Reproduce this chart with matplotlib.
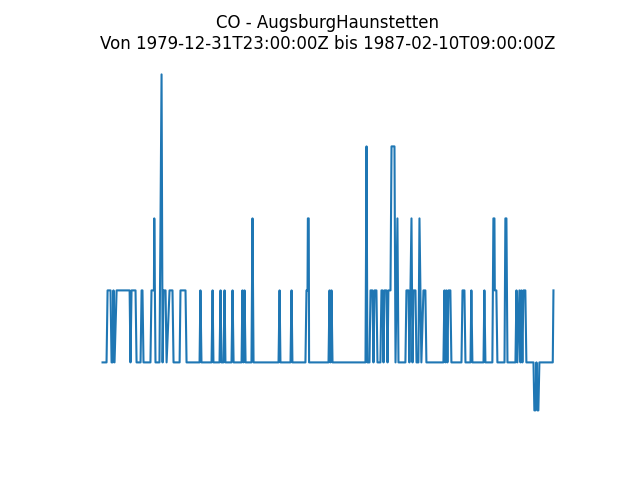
import numpy as np
import pandas as pd
import matplotlib
matplotlib.use("Agg")
import matplotlib.pyplot as plt

# Messstation und Zeitraum
station = "AugsburgHaunstetten"
component = "CO"
start = "1979-12-31T23:00:00Z"
end = "1987-02-10T09:00:00Z"

# Tage seit Beginn der Messreihe, je Zeile 10 Werte
days = [0, 23, 29, 46, 52, 58, 63, 69, 81, 156,
        161, 167, 190, 196, 219, 225, 230, 236, 276, 282,
        296, 298, 305, 328, 340, 346, 351, 363, 369, 386,
        403, 409, 444, 449, 478, 484, 559, 564, 570, 628,
        634, 639, 674, 680, 685, 697, 703, 708, 743, 749,
        755, 801, 806, 812, 818, 824, 858, 864, 870, 1014,
        1020, 1025, 1083, 1089, 1094, 1169, 1175, 1181, 1183, 1188,
        1190, 1302, 1308, 1313, 1319, 1325, 1515, 1521, 1526, 1538,
        1544, 1555, 1561, 1567, 1578, 1584, 1601, 1607, 1613, 1619,
        1624, 1636, 1642, 1647, 1659, 1665, 1682, 1688, 1699, 1705,
        1745, 1751, 1763, 1768, 1780, 1786, 1791, 1803, 1809, 1820,
        1826, 1837, 1849, 1860, 1866, 1964, 1970, 1976, 1981, 1987,
        1993, 2004, 2010, 2068, 2074, 2085, 2091, 2120, 2125, 2131,
        2195, 2200, 2206, 2246, 2252, 2258, 2260, 2269, 2275, 2316,
        2321, 2327, 2333, 2379, 2385, 2390, 2402, 2408, 2413, 2419,
        2425, 2436, 2442, 2483, 2488, 2494, 2500, 2506, 2511, 2517,
        2594, 2598]

# CO-Werte in mg/m3
co = [0.0, 0.0, 0.3, 0.3, 0.0, 0.0, 0.3, 0.0, 0.3, 0.3,
      0.0, 0.3, 0.3, 0.0, 0.0, 0.3, 0.3, 0.0, 0.0, 0.3,
      0.3, 0.6, 0.0, 0.0, 1.2, 0.0, 0.3, 0.3, 0.0, 0.3,
      0.3, 0.0, 0.0, 0.3, 0.3, 0.0, 0.0, 0.3, 0.0, 0.0,
      0.3, 0.0, 0.0, 0.3, 0.0, 0.0, 0.3, 0.0, 0.0, 0.3,
      0.0, 0.0, 0.3, 0.0, 0.3, 0.0, 0.0, 0.6, 0.0, 0.0,
      0.3, 0.0, 0.0, 0.3, 0.0, 0.0, 0.3, 0.3, 0.6, 0.6,
      0.0, 0.0, 0.3, 0.0, 0.3, 0.0, 0.0, 0.9, 0.0, 0.0,
      0.3, 0.3, 0.0, 0.3, 0.3, 0.0, 0.0, 0.3, 0.3, 0.0,
      0.3, 0.3, 0.0, 0.3, 0.3, 0.9, 0.9, 0.0, 0.6, 0.0,
      0.0, 0.3, 0.3, 0.0, 0.6, 0.0, 0.3, 0.3, 0.0, 0.0,
      0.6, 0.0, 0.3, 0.3, 0.0, 0.0, 0.3, 0.0, 0.3, 0.0,
      0.3, 0.3, 0.0, 0.0, 0.3, 0.3, 0.0, 0.0, 0.3, 0.0,
      0.0, 0.3, 0.0, 0.0, 0.6, 0.6, 0.3, 0.3, 0.0, 0.0,
      0.6, 0.6, 0.0, 0.0, 0.3, 0.0, 0.3, 0.0, 0.3, 0.0,
      0.3, 0.3, 0.0, 0.0, -0.2, -0.2, 0.0, -0.2, -0.2, 0.0,
      0.0, 0.3]

t0 = pd.Timestamp(start)
times = t0 + pd.to_timedelta(days, unit="D")

fig, ax = plt.subplots(figsize=(6.4, 4.8), dpi=100)
ax.plot(times, co)
ax.set_title(f"{component} - {station}\nVon {start} bis {end}")
ax.axis("off")

fig.savefig("out.png")
